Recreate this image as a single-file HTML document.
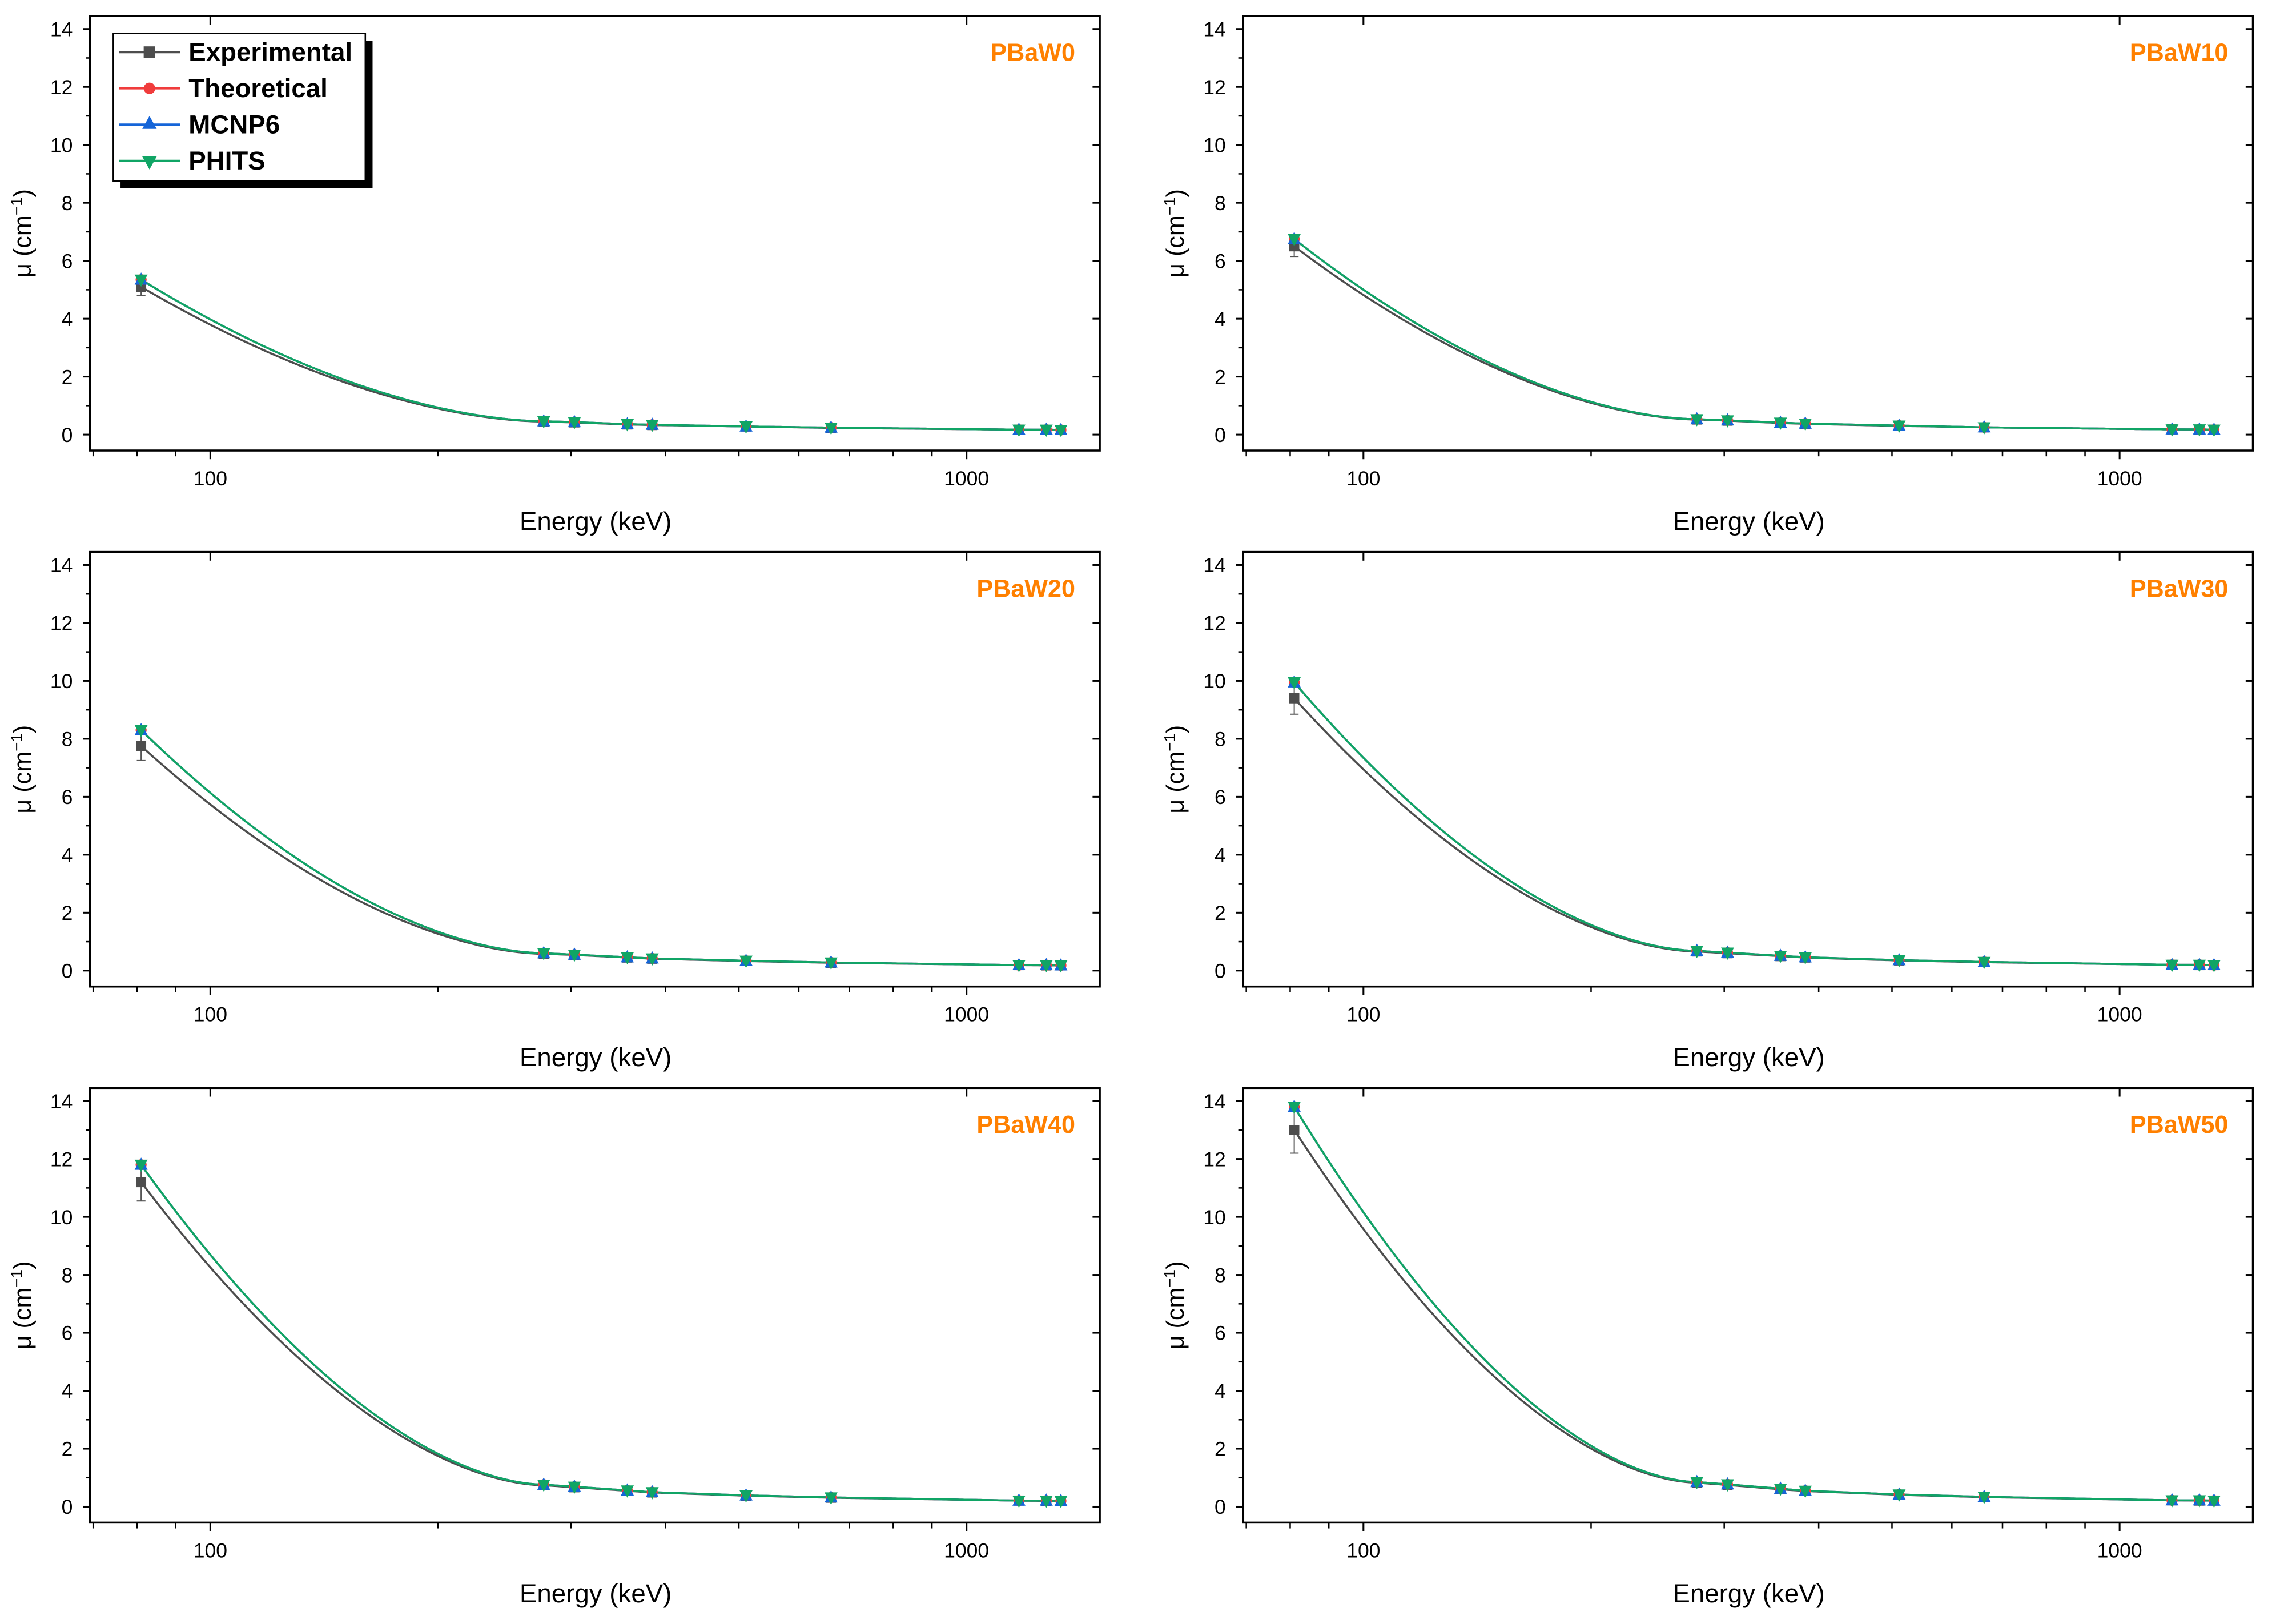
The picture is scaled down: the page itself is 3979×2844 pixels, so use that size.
<!DOCTYPE html>
<html><head><meta charset="utf-8"><style>
html,body{margin:0;padding:0;background:#fff}
svg{display:block}
text{font-family:"Liberation Sans",Arial,sans-serif}
</style></head><body>
<svg id="fig" xmlns="http://www.w3.org/2000/svg" width="3979" height="2844" viewBox="0 0 1568 1121"></svg>
<script>
const energies=[81,276,303,356,384,511,662,1173,1275,1333];
const panelNames=["PBaW0","PBaW10","PBaW20","PBaW30","PBaW40","PBaW50"];
const expVals=[
[5.1,0.45,0.42,0.35,0.33,0.28,0.23,0.17,0.16,0.16],
[6.5,0.52,0.48,0.40,0.37,0.30,0.25,0.18,0.17,0.17],
[7.75,0.58,0.54,0.45,0.41,0.33,0.27,0.19,0.18,0.18],
[9.4,0.66,0.60,0.50,0.45,0.35,0.29,0.20,0.19,0.19],
[11.2,0.74,0.67,0.55,0.49,0.38,0.31,0.21,0.20,0.20],
[13.0,0.83,0.75,0.60,0.54,0.41,0.33,0.22,0.21,0.21]];
const theoVals=[
[5.35,0.46,0.43,0.36,0.34,0.28,0.24,0.17,0.17,0.16],
[6.75,0.53,0.49,0.41,0.38,0.31,0.25,0.18,0.18,0.17],
[8.3,0.60,0.55,0.46,0.42,0.34,0.28,0.19,0.19,0.18],
[9.95,0.68,0.62,0.51,0.46,0.36,0.30,0.20,0.20,0.19],
[11.8,0.76,0.69,0.56,0.50,0.39,0.32,0.21,0.21,0.20],
[13.8,0.85,0.77,0.62,0.55,0.42,0.34,0.22,0.22,0.21]];
const mcnpVals=theoVals.map(r=>r.slice());
const phitsVals=theoVals.map(r=>r.slice());
const expErr=[0.3,0.35,0.5,0.55,0.65,0.8];
const yTicks=[0,2,4,6,8,10,12,14];
const xMajor=[100,1000];
const xMinor=[70,80,90,200,300,400,500,600,700,800,900];

const NS="http://www.w3.org/2000/svg";
const svg=document.getElementById('fig');
function mk(tag,attrs,parent){const e=document.createElementNS(NS,tag);for(const k in attrs)e.setAttribute(k,attrs[k]);(parent||svg).appendChild(e);return e;}
const colX=[62,858],rowY=[11,381,751],PW=697,PH=300;
const colors={exp:"#4d4d4d",theo:"#f03c3c",mcnp:"#1565d8",phits:"#10a565"};

function curve(xs,ys){
  return function(x){
    if(x<=xs[1]){const t=(x-xs[0])/(xs[1]-xs[0]);const u=1-t;
      return ys[1]+(ys[0]-ys[1])*Math.pow(u,1.75);}
    let i=1;while(i<xs.length-2&&x>xs[i+1])i++;
    const t=(x-xs[i])/(xs[i+1]-xs[i]);return ys[i]+(ys[i+1]-ys[i])*t;
  };
}

panelNames.forEach((name,p)=>{
  const ox=colX[p%2],oy=rowY[Math.floor(p/2)];
  const g=mk('g',{});
  
  
  const X=v=>ox+83+522*Math.log10(v/100);
  const Y=v=>oy+289-20*v;
  const fr=mk('rect',{x:ox,y:oy,width:PW,height:PH,fill:'none',stroke:'#000','stroke-width':1.4},g);
  
  
  yTicks.forEach(t=>{
    mk('line',{x1:ox-5,x2:ox,y1:Y(t),y2:Y(t),stroke:'#000','stroke-width':1.2},g);
    mk('line',{x1:ox+PW-5,x2:ox+PW,y1:Y(t),y2:Y(t),stroke:'#000','stroke-width':1.2},g);
    const tl=mk('text',{x:ox-12,y:Y(t)+5,'font-size':14,'text-anchor':'end'},g);tl.textContent=t;
    
    
    if(t<14){const m=t+1;mk('line',{x1:ox-3,x2:ox,y1:Y(m),y2:Y(m),stroke:'#000','stroke-width':1},g);}
  });
  xMajor.forEach(t=>{
    mk('line',{x1:X(t),x2:X(t),y1:oy+PH,y2:oy+PH+6,stroke:'#000','stroke-width':1.2},g);
    mk('line',{x1:X(t),x2:X(t),y1:oy,y2:oy+6,stroke:'#000','stroke-width':1.2},g);
    const tl=mk('text',{x:X(t),y:oy+PH+24,'font-size':14,'text-anchor':'middle'},g);tl.textContent=t;
    
    
  });
  xMinor.forEach(t=>{
    mk('line',{x1:X(t),x2:X(t),y1:oy+PH,y2:oy+PH+4,stroke:'#000','stroke-width':1},g);
  });
  const xt=mk('text',{x:ox+349,y:oy+PH+55,'font-size':18,'text-anchor':'middle'},g);xt.textContent='Energy (keV)';
  
  
  const yt=mk('text',{x:0,y:0,'font-size':17,'text-anchor':'middle',transform:`translate(${ox-41},${oy+150}) rotate(-90)`},g);
  yt.innerHTML='μ (cm<tspan dy="-6" font-size="11">−1</tspan><tspan dy="6">)</tspan>';
  
  
  const pl=mk('text',{x:ox+PW-17,y:oy+31,'font-size':17,'font-weight':'bold',fill:'#ff8000','text-anchor':'end'},g);pl.textContent=name;
  
  

  const series=[['exp',expVals[p]],['theo',theoVals[p]],['mcnp',mcnpVals[p]],['phits',phitsVals[p]]];
  const lx=energies.map(e=>Math.log10(e));
  series.forEach(([key,vals])=>{
    const f=curve(lx,vals);
    let d='';
    for(let i=0;i<=400;i++){const l=lx[0]+(lx[lx.length-1]-lx[0])*i/400;const e=Math.pow(10,l);d+=(i?'L':'M')+X(e).toFixed(2)+','+Y(f(l)).toFixed(2);}
    const ln=mk('path',{d:d,fill:'none',stroke:colors[key],'stroke-width':1.4},g);
    
    
  });
  const eb=mk('path',{d:`M${X(energies[0])},${Y(expVals[p][0]-expErr[p])}V${Y(expVals[p][0]+expErr[p])}M${X(energies[0])-3},${Y(expVals[p][0]-expErr[p])}h6M${X(energies[0])-3},${Y(expVals[p][0]+expErr[p])}h6`,stroke:'#555',fill:'none','stroke-width':0.8},g);
  
  
  series.forEach(([key,vals])=>{
    vals.forEach((v,i)=>{
      const cx=X(energies[i]),cy=Y(v);let m;
      if(key==='exp')m=mk('rect',{x:cx-3.5,y:cy-3.5,width:7,height:7,fill:colors.exp},g);
      else if(key==='theo')m=mk('circle',{cx:cx,cy:cy,r:3.8,fill:colors.theo},g);
      else if(key==='mcnp')m=mk('path',{d:`M${cx},${cy-5}L${cx+4.5},${cy+3.5}L${cx-4.5},${cy+3.5}Z`,fill:colors.mcnp},g);
      else m=mk('path',{d:`M${cx},${cy+5}L${cx+4.5},${cy-3.5}L${cx-4.5},${cy-3.5}Z`,fill:colors.phits},g);
      
      
    });
  });
});

const lg=mk('g',{});


mk('rect',{x:83,y:28,width:174,height:102,fill:'#000'},lg);
mk('rect',{x:78,y:23,width:174,height:102,fill:'#fff',stroke:'#000','stroke-width':1},lg);
const legNames=['Experimental','Theoretical','MCNP6','PHITS'];
const legKeys=['exp','theo','mcnp','phits'];
legNames.forEach((n,i)=>{
  const y=36+25*i,k=legKeys[i];
  const e=mk('g',{},lg);
  
  
  mk('line',{x1:82,x2:124,y1:y,y2:y,stroke:colors[k],'stroke-width':1.5},e);
  const cx=103;
  if(k==='exp')mk('rect',{x:cx-4,y:y-4,width:8,height:8,fill:colors.exp},e);
  else if(k==='theo')mk('circle',{cx:cx,cy:y,r:4,fill:colors.theo},e);
  else if(k==='mcnp')mk('path',{d:`M${cx},${y-6}L${cx+5},${y+3}L${cx-5},${y+3}Z`,fill:colors.mcnp},e);
  else mk('path',{d:`M${cx},${y+6}L${cx+5},${y-3}L${cx-5},${y-3}Z`,fill:colors.phits},e);
  const t=mk('text',{x:130,y:y+6,'font-size':18,'font-weight':'bold'},e);t.textContent=n;
});
</script>
</body></html>
